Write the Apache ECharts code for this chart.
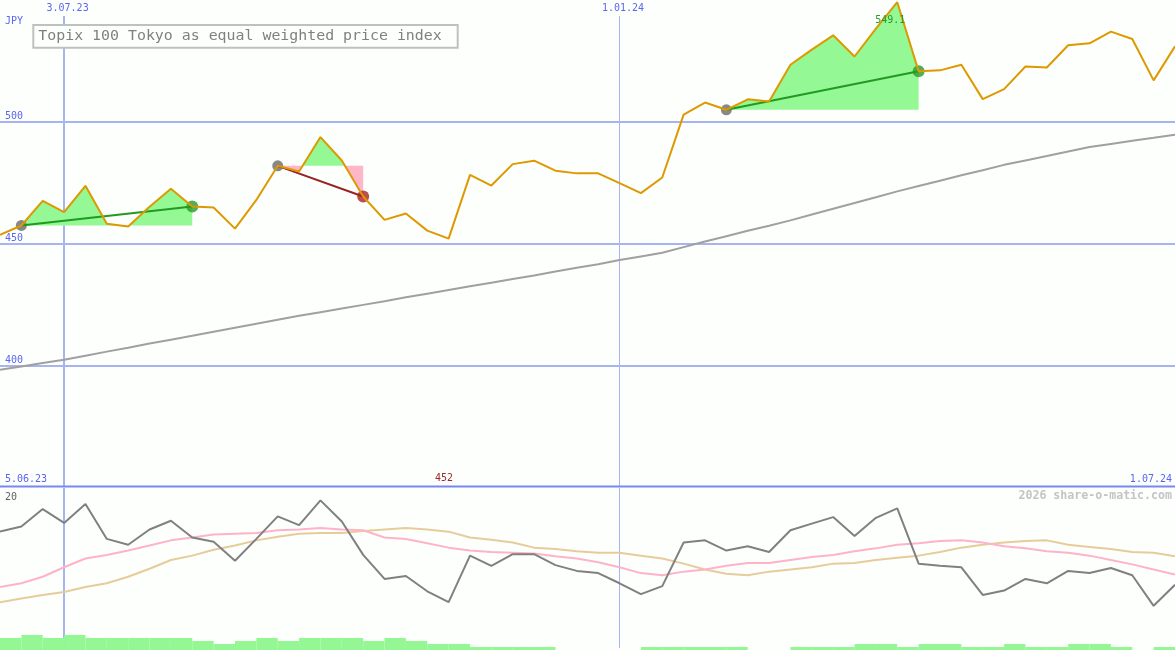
<!DOCTYPE html>
<html><head><meta charset="utf-8">
<script src="https://cdn.jsdelivr.net/npm/echarts@6/dist/echarts.min.js"></script>
<style>html,body{margin:0;padding:0;background:#fdfffd}#c{width:1175px;height:650px}</style>
</head><body><div id="c"></div>
<script>
// ---------------- data ----------------
const dates = ['12.06.23','19.06.23','26.06.23','3.07.23','10.07.23','17.07.23','24.07.23','31.07.23','7.08.23','14.08.23',
  '21.08.23','28.08.23','4.09.23','11.09.23','18.09.23','25.09.23','2.10.23','9.10.23','16.10.23','23.10.23',
  '30.10.23','6.11.23','13.11.23','20.11.23','27.11.23','4.12.23','11.12.23','18.12.23','25.12.23','1.01.24',
  '8.01.24','15.01.24','22.01.24','29.01.24','5.02.24','12.02.24','19.02.24','26.02.24','4.03.24','11.03.24',
  '18.03.24','25.03.24','1.04.24','8.04.24','15.04.24','22.04.24','29.04.24','6.05.24','13.05.24','20.05.24',
  '27.05.24','3.06.24','10.06.24','17.06.24','24.06.24','1.07.24'];
const price = [453.6,457.4,467.5,462.9,473.7,458.1,457.0,465.1,472.5,465.2,
  464.8,456.1,467.9,481.9,479.6,493.7,484.1,469.3,459.7,462.3,
  455.3,452.0,478.2,473.8,482.6,484.0,479.9,478.8,478.8,474.8,
  470.7,477.1,502.9,507.9,504.9,509.2,508.3,523.4,529.6,535.5,
  526.8,538.2,549.1,520.7,521.1,523.4,509.3,513.4,522.7,522.3,
  531.4,532.2,537.0,534.0,517.0,531.0];
const priceMA = [398.1,399.5,400.9,402.3,403.9,405.6,407.2,408.9,410.5,412.1,
  413.8,415.4,417.0,418.7,420.3,421.8,423.3,424.8,426.3,427.9,
  429.4,430.9,432.4,433.9,435.4,436.9,438.5,440.0,441.5,443.2,
  444.7,446.2,448.5,450.8,453.0,455.2,457.3,459.5,461.9,464.3,
  466.6,469.0,471.4,473.6,475.8,478.0,480.1,482.3,484.1,485.9,
  487.8,489.6,490.9,492.2,493.4,494.7];
const oscFast = [16.0,16.7,19.1,17.2,19.8,15.0,14.2,16.3,17.5,15.2,
  14.6,12.0,15.0,18.1,16.9,20.3,17.4,12.8,9.5,9.9,
  7.8,6.3,12.7,11.3,12.9,12.9,11.4,10.6,10.3,8.9,
  7.4,8.5,14.5,14.8,13.4,14.0,13.2,16.2,17.1,18.0,
  15.4,17.9,19.2,11.6,11.3,11.1,7.3,7.9,9.5,8.9,
  10.6,10.3,11.0,10.0,5.8,8.7];
const oscPink = [8.4,8.9,9.8,11.1,12.3,12.8,13.4,14.1,14.8,15.2,
  15.6,15.7,15.8,16.2,16.3,16.5,16.3,16.2,15.2,15.0,
  14.4,13.8,13.4,13.2,13.1,13.0,12.6,12.3,11.8,11.1,
  10.3,10.0,10.5,10.8,11.3,11.7,11.7,12.1,12.5,12.8,
  13.3,13.7,14.2,14.4,14.7,14.8,14.5,14.0,13.7,13.3,
  13.1,12.7,12.1,11.5,10.8,10.1];
const oscTan = [6.3,6.8,7.3,7.7,8.4,8.9,9.8,10.9,12.1,12.7,
  13.5,14.1,14.8,15.3,15.7,15.8,15.8,16.1,16.3,16.5,
  16.3,16.0,15.2,14.9,14.5,13.8,13.6,13.3,13.1,13.1,
  12.7,12.3,11.6,10.8,10.2,10.0,10.5,10.8,11.1,11.6,
  11.7,12.1,12.4,12.7,13.2,13.8,14.2,14.5,14.7,14.8,
  14.2,13.9,13.6,13.2,13.1,12.6];
const volume = [4,5,4,5,4,4,4,4,4,3,
  2,3,4,3,4,4,4,3,4,3,
  2,2,1,1,1,1,0,0,0,0,
  1,1,1,1,1,0,0,1,1,1,
  2,2,1,2,2,1,1,2,1,1,
  2,2,1,0,1];
const trendStart = [1, 13, 34];
const trendEnd = [9, 17, 43];
const yTicks = [400, 450, 500];
const dateMarks = [3, 29];
const periodStart = '5.06.23';
const titleText = 'Topix 100 Tokyo as equal weighted price index';
const currency = 'JPY';
const watermark = '2026 share-o-matic.com';

// ---------------- styles ----------------
const MONO = '"DejaVu Sans Mono", "Liberation Mono", monospace';
const BLUE = '#5a66f0';
const GRIDC = '#a8b4f2';
const GREEN_FILL = '#94f894';
const PINK_FILL = '#ffb6c8';
const BG = '#fdfffd';

const chart = echarts.init(document.getElementById('c'), null, {renderer: 'canvas'});

const isUp = k => price[trendEnd[k]] >= price[trendStart[k]];
const trendSeries = trendStart.map((s, k) => ({
  type: 'line', xAxisIndex: 0, yAxisIndex: 0, z: 5, silent: true,
  data: price.map((v, i) => (i === s || i === trendEnd[k]) ? v : null),
  connectNulls: true, symbol: 'none',
  lineStyle: {color: isUp(k) ? '#229a22' : '#992222', width: 2}
}));

function renderFill(params, api) {
  const s = api.value(0), e = api.value(1);
  const base = price[s];
  const by = api.coord([s, base])[1];
  const P = i => api.coord([i, price[i]]);
  const kids = [];
  let run = [[P(s)[0], by]], sign = 0;
  const close = (endX) => {
    run.push([endX, by]);
    if (sign !== 0) kids.push({type: 'polygon', shape: {points: run}, style: {fill: sign > 0 ? GREEN_FILL : PINK_FILL}});
  };
  for (let i = s; i < e; i++) {
    const d0 = price[i] - base, d1 = price[i + 1] - base;
    const p0 = P(i), p1 = P(i + 1);
    run.push(p0);
    if (d0 !== 0) sign = Math.sign(d0); else if (sign === 0) sign = Math.sign(d1);
    if (d0 * d1 < 0) {
      const t = d0 / (d0 - d1);
      const cx = p0[0] + t * (p1[0] - p0[0]);
      close(cx);
      run = [[cx, by]];
      sign = Math.sign(d1);
    }
  }
  const pe = P(e);
  run.push(pe);
  close(pe[0]);
  return {type: 'group', children: kids};
}

const smallLabel = {fontFamily: MONO, fontSize: 10};

const option = {
  animation: false,
  backgroundColor: BG,
  grid: [
    {left: 0, right: 0, top: 0, height: 487},
    {left: 0, right: 0, top: 488, height: 160},
    {left: 0, right: 0, top: 602, height: 48}
  ],
  xAxis: [
    {type: 'category', gridIndex: 0, data: dates, boundaryGap: false, position: 'top',
      axisLine: {show: false}, axisTick: {show: false}, splitLine: {show: false},
      axisLabel: Object.assign({inside: true, margin: 3, color: BLUE, padding: [0, 0, 0, 7],
        interval: (i) => dateMarks.includes(i)}, smallLabel)},
    {type: 'category', gridIndex: 1, data: dates, boundaryGap: false, show: false},
    {type: 'category', gridIndex: 2, data: dates.slice(1), boundaryGap: true, show: false}
  ],
  yAxis: [
    {type: 'value', gridIndex: 0, min: 350, max: 550, interval: 50,
      axisLine: {show: false}, axisTick: {show: false}, splitLine: {show: false},
      axisLabel: Object.assign({inside: true, margin: 5, verticalAlign: 'bottom', color: BLUE,
        showMinLabel: false, showMaxLabel: false}, smallLabel)},
    {type: 'value', gridIndex: 1, min: 0, max: 22, interval: 20,
      axisLine: {show: false}, axisTick: {show: false}, splitLine: {show: false},
      axisLabel: Object.assign({inside: true, margin: 5, verticalAlign: 'bottom', color: '#606060',
        showMinLabel: true, showMaxLabel: false}, smallLabel)},
    {type: 'value', gridIndex: 2, min: 0, max: 16, show: false}
  ],
  series: [
    {type: 'custom', xAxisIndex: 0, yAxisIndex: 0, z: 2, silent: true,
      data: trendStart.map((s, k) => [s, trendEnd[k]]),
      renderItem: renderFill},
    {type: 'line', xAxisIndex: 0, yAxisIndex: 0, z: 3, silent: true, data: priceMA, symbol: 'none',
      lineStyle: {color: '#a0a0a0', width: 2},
      markLine: {silent: true, symbol: 'none', z: 1, label: {show: false},
        lineStyle: {color: GRIDC, width: 2, type: 'solid'},
        data: yTicks.map(v => ({yAxis: v})).concat(dateMarks.map((d, j) => [
          {coord: [dates[d], 543.4], lineStyle: {color: GRIDC, width: j === 0 ? 2 : 1, type: 'solid'}},
          {coord: [dates[d], 350]}
        ]))}},
    {type: 'scatter', xAxisIndex: 0, yAxisIndex: 0, z: 4, silent: true, symbolSize: 11,
      data: trendStart.map(s => [dates[s], price[s]]), itemStyle: {color: '#888888', opacity: 1}},
    {type: 'scatter', xAxisIndex: 0, yAxisIndex: 0, z: 4, silent: true, symbolSize: 12,
      data: trendEnd.map((e, k) => ({value: [dates[e], price[e]], itemStyle: {color: isUp(k) ? '#2a9a2a' : '#aa2222'}}))},
    ...trendSeries,
    {type: 'line', xAxisIndex: 0, yAxisIndex: 0, z: 6, silent: true, data: price, symbol: 'none',
      lineStyle: {color: '#dd9900', width: 2}},
    // lower panel
    {type: 'line', xAxisIndex: 1, yAxisIndex: 1, z: 3, silent: true, data: oscTan, symbol: 'none',
      lineStyle: {color: '#e6cc9a', width: 2},
      markLine: {silent: true, symbol: 'none', z: 1, label: {show: false},
        data: dateMarks.map((d, j) => ({xAxis: dates[d], lineStyle: {color: GRIDC, width: j === 0 ? 2 : 1, type: 'solid'}}))}},
    {type: 'line', xAxisIndex: 1, yAxisIndex: 1, z: 3, silent: true, data: oscPink, symbol: 'none',
      lineStyle: {color: '#ffb3c8', width: 2}},
    {type: 'line', xAxisIndex: 1, yAxisIndex: 1, z: 3, silent: true, data: oscFast, symbol: 'none',
      lineStyle: {color: '#808080', width: 2}},
    {type: 'bar', xAxisIndex: 2, yAxisIndex: 2, z: 4, silent: true, data: volume,
      barCategoryGap: '0%', itemStyle: {color: '#94f794'}}
  ]
};
chart.setOption(option);

// text decorations positioned from the chart's own scales
let maxIdx = 0, minIdx = 0;
price.forEach((v, i) => { if (v > price[maxIdx]) maxIdx = i; if (v < price[minIdx]) minIdx = i; });
const fmt = v => String(Number(v.toFixed(1)));
const maxX = chart.convertToPixel({gridIndex: 0}, [dates[maxIdx], price[maxIdx]])[0];
const minX = chart.convertToPixel({gridIndex: 0}, [dates[minIdx], price[minIdx]])[0];

chart.setOption({
  graphic: [
    {type: 'line', shape: {x1: 0, y1: 486.5, x2: 1175, y2: 486.5}, style: {stroke: '#7888f0', lineWidth: 2}, z: 10, silent: true},
    {type: 'rect', shape: {x: 33.3, y: 25, width: 424.4, height: 22.7}, style: {fill: BG, stroke: '#c0c0c0', lineWidth: 2}, z: 10, silent: true},
    {type: 'text', x: 38.3, y: 36.3, style: {text: titleText, fill: '#808080', font: '14.9px ' + MONO, textVerticalAlign: 'middle'}, z: 11, silent: true},
    {type: 'text', x: 5, y: 21, style: {text: currency, fill: BLUE, font: '10px ' + MONO, textVerticalAlign: 'middle'}, z: 11, silent: true},
    {type: 'text', x: 5, y: 479, style: {text: periodStart, fill: BLUE, font: '10px ' + MONO, textVerticalAlign: 'middle'}, z: 11, silent: true},
    {type: 'text', x: 1172, y: 479, style: {text: dates[dates.length - 1], fill: BLUE, font: '10px ' + MONO, textAlign: 'right', textVerticalAlign: 'middle'}, z: 11, silent: true},
    {type: 'text', x: minX - 4.6, y: 478.5, style: {text: fmt(price[minIdx]), fill: '#a02828', font: '10px ' + MONO, textAlign: 'center', textVerticalAlign: 'middle'}, z: 11, silent: true},
    {type: 'text', x: maxX - 7, y: 20.5, style: {text: fmt(price[maxIdx]), fill: '#2a9a2a', font: '10px ' + MONO, textAlign: 'center', textVerticalAlign: 'middle'}, z: 11, silent: true},
    {type: 'text', x: 1172, y: 496, style: {text: watermark, fill: '#c4c4c4', font: 'bold 11.6px ' + MONO, textAlign: 'right', textVerticalAlign: 'middle'}, z: 11, silent: true}
  ]
});
</script>
</body></html>
